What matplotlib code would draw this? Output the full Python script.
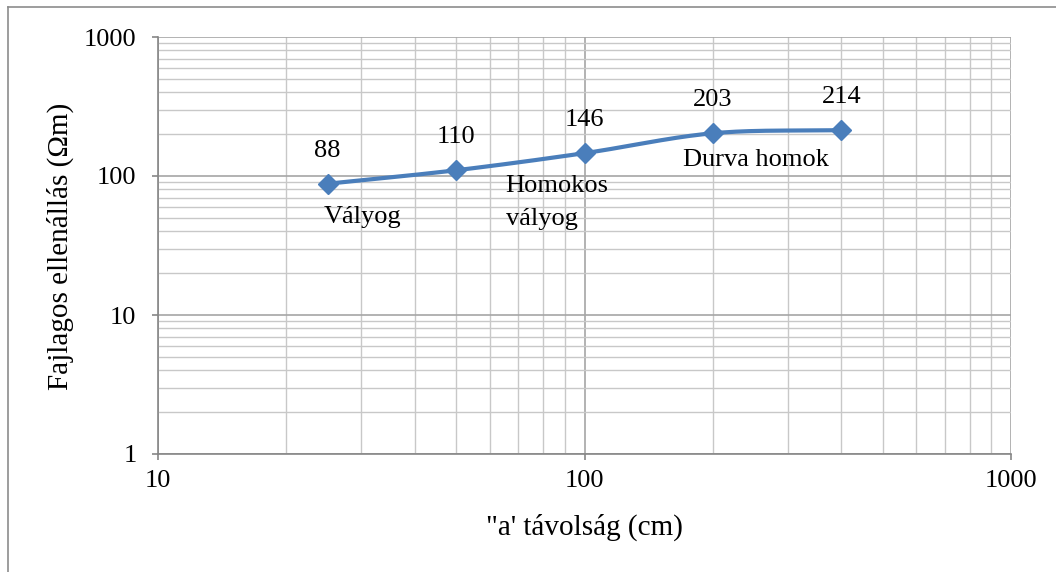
import numpy as np
import matplotlib
matplotlib.use("Agg")
import matplotlib.pyplot as plt
from matplotlib.ticker import LogLocator, FixedLocator, NullFormatter, FuncFormatter
from matplotlib.lines import Line2D

plt.rcParams['font.family'] = ['Liberation Serif', 'DejaVu Serif']

distance_cm = [25, 50, 100, 200, 400]
resistivity = [88, 110, 146, 203, 214]
value_labels = ['88', '110', '146', '203', '214']
soil_labels = ['Vályog', '', 'Homokos\nvályog', 'Durva homok', '']

x_label = '"a\' távolság (cm)'
y_label = 'Fajlagos ellenállás (Ωm)'

PX = 72 / 100  # points per pixel


def catmull_rom(px, py, n=40):
    P = np.column_stack([np.asarray(px, float), np.asarray(py, float)])
    P = np.vstack([2 * P[0] - P[1], P, 2 * P[-1] - P[-2]])
    out = []
    for i in range(1, len(P) - 2):
        p0, p1, p2, p3 = P[i - 1], P[i], P[i + 1], P[i + 2]
        t = np.linspace(0, 1, n)[:, None]
        seg = 0.5 * ((2 * p1) + (-p0 + p2) * t + (2 * p0 - 5 * p1 + 4 * p2 - p3) * t ** 2
                     + (-p0 + 3 * p1 - 3 * p2 + p3) * t ** 3)
        out.append(seg if i == 1 else seg[1:])
    return np.vstack(out)


fig = plt.figure(figsize=(10.56, 5.72), dpi=100)
ax = fig.add_axes([158 / 1056, 1 - 454 / 572, (1011 - 158) / 1056, (454 - 37) / 572])

ax.set_xscale('log')
ax.set_yscale('log')
ax.set_xlim(10, 1000)
ax.set_ylim(1, 1000)

ax.xaxis.set_major_locator(FixedLocator([10, 100, 1000]))
ax.yaxis.set_major_locator(FixedLocator([1, 10, 100, 1000]))
ax.xaxis.set_minor_locator(LogLocator(base=10, subs=np.arange(2, 10)))
ax.yaxis.set_minor_locator(LogLocator(base=10, subs=np.arange(2, 10)))
ax.xaxis.set_minor_formatter(NullFormatter())
ax.yaxis.set_minor_formatter(NullFormatter())
fmt = FuncFormatter(lambda v, p: f'{v:g}')
ax.xaxis.set_major_formatter(fmt)
ax.yaxis.set_major_formatter(fmt)

ax.grid(which='major', color='#A6A6A6', linewidth=1.2)
ax.grid(which='minor', color='#C8C8C8', linewidth=1.0)
ax.set_axisbelow(True)
for s in ['top', 'right']:
    ax.spines[s].set_visible(False)
for s in ['left', 'bottom']:
    ax.spines[s].set_color('#868686')
    ax.spines[s].set_linewidth(1.2)
ax.tick_params(which='major', direction='out', length=4.5, color='#868686', width=1.2,
               labelsize=19)
ax.tick_params(axis='y', which='major', pad=11)
ax.tick_params(axis='x', which='major', pad=7)
ax.tick_params(which='minor', length=0)

lx = np.log10(distance_cm)
ly = np.log10(resistivity)
sm = catmull_rom(lx, ly)
ax.plot(10 ** sm[:, 0], 10 ** sm[:, 1], color='#4A7EBB', linewidth=3,
        solid_capstyle='round', zorder=3)
ax.plot(distance_cm, resistivity, linestyle='none', marker='D', markersize=10.5,
        color='#4A7EBB', zorder=4)

for x, y, t in zip(distance_cm, resistivity, value_labels):
    ax.annotate(t, (x, y), xytext=(0, 27 * PX), textcoords='offset points',
                ha='center', va='baseline', fontsize=19)

# (dx, dy) in pixels from the point to the left/baseline of the first line
soil_offsets = [(-4, -39), (0, 0), (-79, -38.5), (-30, -32.7), (0, 0)]
for x, y, t, off in zip(distance_cm, resistivity, soil_labels, soil_offsets):
    if not t:
        continue
    for k, line in enumerate(t.split('\n')):
        ax.annotate(line, (x, y), xytext=(off[0] * PX, (off[1] - 33.5 * k) * PX),
                    textcoords='offset points', ha='left', va='baseline', fontsize=19)

fig.text(584.5 / 1056, 1 - 527 / 572, x_label, fontsize=21, ha='center', va='center')
fig.text(60 / 1056, 1 - 246 / 572, y_label, fontsize=21, ha='center', va='center',
         rotation=90)

fig.add_artist(Line2D([8 / 1056, 8 / 1056], [0, 1 - 7 / 572], transform=fig.transFigure,
                      color='#8C8C8C', lw=1.2))
fig.add_artist(Line2D([8 / 1056, 1], [1 - 7 / 572, 1 - 7 / 572], transform=fig.transFigure,
                      color='#8C8C8C', lw=1.2))

fig.savefig('out.png', dpi=100)
